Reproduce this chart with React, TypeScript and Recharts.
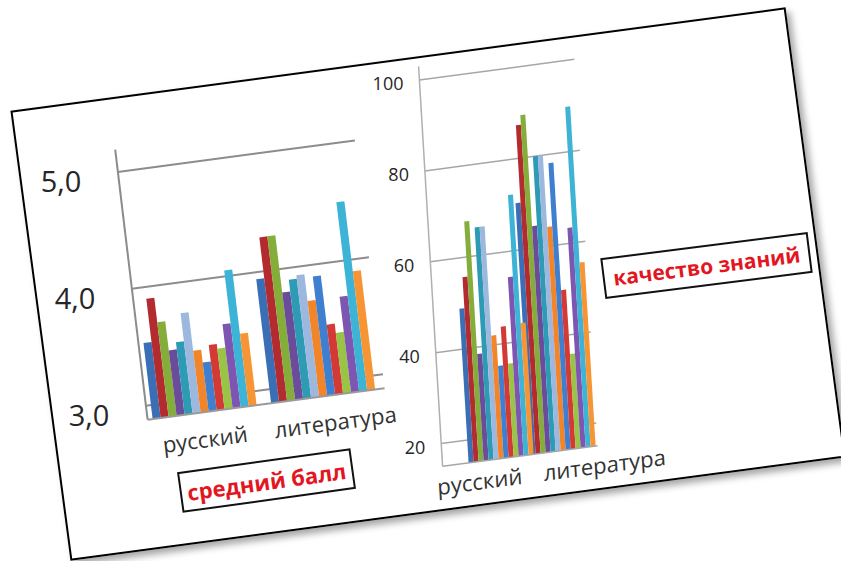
import { BarChart, Bar, XAxis, YAxis, CartesianGrid } from 'recharts'

const categories = ['русский', 'литература']

// 13 classes, same colour order in both charts
const seriesColors = [
  '#3A6EB5', '#B32B2E', '#84AD3A', '#6B4C9A', '#2E9BB5', '#9DB8DE', '#F2842A',
  '#3F7FD0', '#D33A36', '#99C445', '#7E55B0', '#3DB3D6', '#F79534',
]

// средний балл
const ballRus = [3.53, 3.9, 3.69, 3.44, 3.5, 3.74, 3.41, 3.3, 3.44, 3.4, 3.6, 4.05, 3.5]
const ballLit = [3.94, 4.29, 4.29, 3.8, 3.9, 3.93, 3.7, 3.9, 3.48, 3.4, 3.7, 4.5, 3.9]
const ballTicks = [3, 4, 5]

// качество знаний, %
const qualRus = [48.9, 55.7, 67.8, 38.5, 66.2, 66.2, 42.1, 35.3, 43.8, 35.5, 54.4, 72.3, 44]
const qualLit = [70.3, 87.3, 89.4, 64.8, 80, 80, 64.2, 78.1, 50, 35.8, 63.4, 89.9, 55.5]
const qualTicks = [20, 40, 60, 80, 100]

const seriesKeys = seriesColors.map((_, i) => `s${i + 1}`)

function buildRows(rus: number[], lit: number[]) {
  return categories.map((name, ci) => {
    const vals = ci === 0 ? rus : lit
    const row: Record<string, string | number> = { name }
    vals.forEach((v, i) => {
      row[seriesKeys[i]] = v
    })
    return row
  })
}

const ballRows = buildRows(ballRus, ballLit)
const qualRows = buildRows(qualRus, qualLit)

// the picture is a tilted photo of a slide: rows fall to the left, columns lean right
const SLOPE = -0.133
const FONT = '"Open Sans", "Noto Sans", sans-serif'

function shear(lean: number) {
  return `matrix(1, ${SLOPE}, ${lean}, 1, 0, 0)`
}

function upright(lean: number) {
  const det = 1 - lean * SLOPE
  return `matrix(${1 / det} ${-SLOPE / det} ${-lean / det} ${1 / det} 0 0)`
}

function makeYTick(lean: number, size: number, dy: number, fmt: (v: number) => string) {
  return (props: any) => {
    const { x, y, payload } = props
    return (
      <g transform={`translate(${x},${y + dy}) ${upright(lean)}`}>
        <text
          x={0}
          y={0}
          textAnchor="end"
          dominantBaseline="central"
          fontSize={size}
          fontFamily={FONT}
          fill="#262626"
        >
          {fmt(payload.value)}
        </text>
      </g>
    )
  }
}

function makeXTick(shift: number[], dy: number) {
  return (props: any) => {
    const { x, y, payload, index } = props
    return (
      <text
        x={x + (shift[index] || 0)}
        y={y + dy}
        textAnchor="middle"
        dominantBaseline="central"
        fontSize={22}
        fontFamily={FONT}
        fill="#333"
      >
        {payload.value}
      </text>
    )
  }
}

const leftLean = 0.12
const rightLean = 0.06

function BallChart() {
  return (
    <div
      style={{
        position: 'absolute',
        left: 29,
        top: 151,
        transform: shear(leftLean),
        transformOrigin: '0 0',
      }}
    >
      <BarChart
        width={332}
        height={330}
        data={ballRows}
        margin={{ top: 10, right: 10, left: 0, bottom: 0 }}
        barCategoryGap={5}
        barGap={0}
      >
        <CartesianGrid
          vertical={false}
          horizontalValues={ballTicks}
          stroke="#8c8c8c"
          strokeWidth={2}
        />
        <XAxis
          dataKey="name"
          height={50}
          tickLine={false}
          axisLine={{ stroke: '#9a9a9a', strokeWidth: 2 }}
          tick={makeXTick([-5, 7], 26)}
          tickSize={0}
          tickMargin={0}
          interval={0}
        />
        <YAxis
          width={85}
          domain={[2.88, 5.19]}
          allowDataOverflow
          ticks={ballTicks}
          tickLine={false}
          axisLine={{ stroke: '#8c8c8c', strokeWidth: 2 }}
          tickSize={0}
          tickMargin={37}
          tick={makeYTick(leftLean, 29, 4, (v) => v.toFixed(1).replace('.', ','))}
        />
        {seriesKeys.map((k, i) => (
          <Bar key={k} dataKey={k} fill={seriesColors[i]} isAnimationActive={false} />
        ))}
      </BarChart>
    </div>
  )
}

function QualChart() {
  return (
    <div
      style={{
        position: 'absolute',
        left: 368,
        top: 63,
        transform: shear(rightLean),
        transformOrigin: '0 0',
      }}
    >
      <BarChart
        width={300}
        height={450}
        data={qualRows}
        margin={{ top: 10, right: 95, left: 0, bottom: 0 }}
        barCategoryGap={1}
        barGap={0}
      >
        <CartesianGrid
          vertical={false}
          horizontalValues={qualTicks}
          stroke="#a6a6a6"
          strokeWidth={1.5}
        />
        <XAxis
          dataKey="name"
          height={40}
          tickLine={false}
          axisLine={{ stroke: '#a6a6a6', strokeWidth: 1.5 }}
          tick={makeXTick([-20, 43], 19)}
          tickSize={0}
          tickMargin={0}
          interval={0}
          padding={{ left: 25, right: 6 }}
        />
        <YAxis
          width={50}
          domain={[15, 103]}
          allowDataOverflow
          ticks={qualTicks}
          tickLine={false}
          axisLine={{ stroke: '#b0b0b0', strokeWidth: 1.5 }}
          tickSize={0}
          tickMargin={16}
          tick={makeYTick(rightLean, 18, 1, (v) => String(v))}
        />
        {seriesKeys.map((k, i) => (
          <Bar key={k} dataKey={k} fill={seriesColors[i]} isAnimationActive={false} />
        ))}
      </BarChart>
    </div>
  )
}

function Caption({
  text,
  left,
  top,
  width,
  angle,
  size,
}: {
  text: string
  left: number
  top: number
  width: number
  angle: number
  size: number
}) {
  return (
    <div
      style={{
        position: 'absolute',
        left,
        top,
        width,
        height: 41,
        boxSizing: 'border-box',
        border: '2.5px solid #111',
        background: '#fff',
        transform: `rotate(${angle}deg)`,
        transformOrigin: 'center',
        display: 'flex',
        alignItems: 'center',
        justifyContent: 'center',
        color: '#E3161F',
        fontFamily: FONT,
        fontWeight: 700,
        fontSize: size,
        whiteSpace: 'nowrap',
      }}
    >
      {text}
    </div>
  )
}

export default function App() {
  return (
    <div
      style={{
        position: 'absolute',
        left: 0,
        top: 0,
        width: 841,
        height: 561,
        overflow: 'hidden',
        background: '#fff',
      }}
    >
      <div
        style={{
          position: 'absolute',
          left: 36.5,
          top: 56.5,
          width: 782,
          height: 454,
          boxSizing: 'border-box',
          border: '2px solid #000',
          background: '#fff',
          boxShadow: '4px 5px 7px rgba(0,0,0,0.35)',
          transform: 'rotate(-7.6deg)',
          transformOrigin: 'center',
        }}
      />
      <BallChart />
      <QualChart />
      <Caption text="средний балл" left={179} top={460} width={175} angle={-7.9} size={22} />
      <Caption text="качество знаний" left={602} top={245} width={209} angle={-7.2} size={21} />
    </div>
  )
}
